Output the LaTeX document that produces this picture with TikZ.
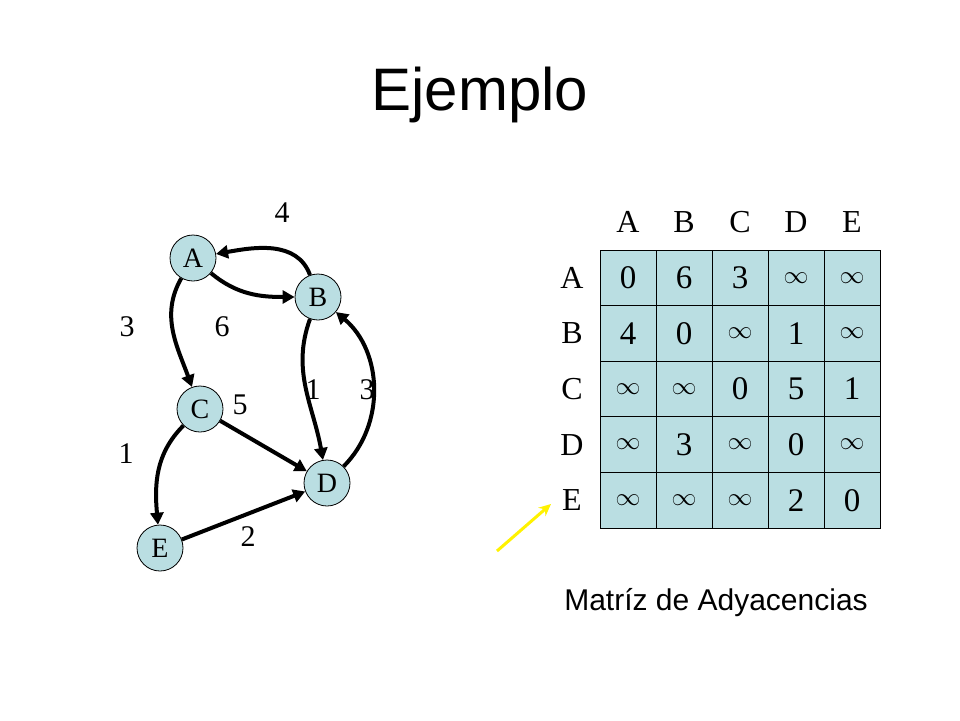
\documentclass[tikz,border=0pt]{standalone}
\usepackage{fontspec}
\setmainfont{Liberation Serif}
\newfontfamily\hdr{Liberation Sans}
\usetikzlibrary{arrows.meta}
\definecolor{fillc}{RGB}{186,222,226}
\tikzset{
  vert/.style={circle,draw,line width=0.8pt,fill=fillc,minimum size=46pt,inner sep=0pt,font=\fontsize{28}{28}\selectfont},
  edge/.style={line width=4pt,-{Triangle[length=12pt,width=13pt]}},
  wlab/.style={font=\fontsize{30}{30}\selectfont},
  cell/.style={draw,line width=0.8pt,fill=fillc,minimum width=56pt,minimum height=55.6pt,inner sep=0pt,font=\fontsize{33}{33}\selectfont},
  mlab/.style={font=\fontsize{32}{32}\selectfont}
}
\begin{document}
\begin{tikzpicture}[x=1pt,y=-1pt]
\useasboundingbox[fill=white] (0,0) rectangle (960,720);
\node[font=\hdr\fontsize{60}{60}\selectfont] (title) at (480,95) {Ejemplo};
\node[vert] (A) at (193,258) {A};
\node[vert] (B) at (318,297) {B};
\node[vert] (C) at (200,409) {C};
\node[vert] (D) at (327,483) {D};
\node[vert] (E) at (160,548) {E};
\draw[edge] (A) to[out=-40,in=180] (B);
\draw[edge] (B) to[out=110,in=10] (A);
\draw[edge] (A) to[out=-120,in=110] (C);
\draw[edge] (B) to[out=-110,in=100] (D);
\draw[edge] (D) to[out=45,in=-40] (B);
\draw[edge] (C) -- (D);
\draw[edge] (C) to[out=-135,in=95] (E);
\draw[edge] (E) -- (D);
\node[wlab] (w1) at (282,213) {4};
\node[wlab] (w2) at (127,327) {3};
\node[wlab] (w3) at (222,327) {6};
\node[wlab] (w4) at (313,390) {1};
\node[wlab] (w5) at (367,390) {3};
\node[wlab] (w6) at (240,405) {5};
\node[wlab] (w7) at (126,454) {1};
\node[wlab] (w8) at (248,537) {2};
\foreach \l [count=\i] in {A,B,C,D,E}{
  \node[mlab] (h\i) at (572+56*\i,222) {\l};
  \node[mlab] (r\i) at (572,250+55.6*\i-27.8) {\l};
}
\foreach \row [count=\r] in {{0,6,3,$\infty$,$\infty$},{4,0,$\infty$,1,$\infty$},{$\infty$,$\infty$,0,5,1},{$\infty$,3,$\infty$,0,$\infty$},{$\infty$,$\infty$,$\infty$,2,0}}{
  \foreach \v [count=\c] in \row {
    \node[cell] (m\r\c) at (572+56*\c,250+55.6*\r-27.8) {\v};
  }
}
\coordinate (ys) at (497,551);
\coordinate (ye) at (551,504);
\draw[yellow,line width=3pt,-{Stealth[length=12pt,width=11pt]}] (ys) -- (ye);
\node[font=\hdr\fontsize{30}{30}\selectfont] (cap) at (716,603) {Matríz de Adyacencias};
\end{tikzpicture}
\end{document}
